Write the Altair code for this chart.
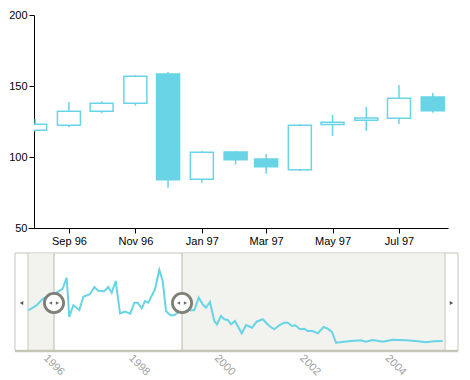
import altair as alt
import pandas as pd

# ---------------- data ----------------
months = ["1996/08/01", "1996/09/01", "1996/10/01", "1996/11/01", "1996/12/01",
          "1997/01/01", "1997/02/01", "1997/03/01", "1997/04/01", "1997/05/01",
          "1997/06/01", "1997/07/01", "1997/08/01"]
opens = [118.8, 122.3, 132.2, 137.8, 158.5, 84.3, 103.5, 98.6, 91.1, 122.8, 125.8, 127.3, 142.3]
closes = [123.0, 132.2, 137.8, 156.8, 84.0, 103.3, 98.1, 93.2, 122.3, 124.4, 127.5, 141.3, 132.6]
highs = [126.8, 138.7, 139.2, 157.7, 159.9, 104.2, 104.2, 102.1, 123.2, 129.6, 135.2, 150.7, 145.1]
lows = [117.8, 120.9, 130.8, 136.1, 78.4, 81.9, 94.6, 88.2, 90.1, 114.8, 118.3, 123.2, 131.2]

nav_year = [1995.679, 1995.876, 1995.993, 1996.070, 1996.164, 1996.258, 1996.368, 1996.485,
            1996.578, 1996.639, 1996.733, 1996.874, 1996.967, 1997.124, 1997.225, 1997.318,
            1997.459, 1997.553, 1997.632, 1997.726, 1997.827, 1997.944, 1998.068, 1998.162,
            1998.241, 1998.335, 1998.412, 1998.489, 1998.646, 1998.747, 1998.827, 1998.904,
            1999.005, 1999.098, 1999.192, 1999.279, 1999.349, 1999.489, 1999.567, 1999.670,
            1999.763, 1999.841, 1999.934, 2000.035, 2000.098, 2000.192, 2000.269, 2000.349,
            2000.426, 2000.520, 2000.677, 2000.778, 2000.918, 2001.028, 2001.169, 2001.323,
            2001.440, 2001.557, 2001.674, 2001.754, 2001.855, 2001.932, 2002.042, 2002.143,
            2002.222, 2002.340, 2002.457, 2002.597, 2002.691, 2002.792, 2002.885, 2003.080,
            2003.237, 2003.471, 2003.588, 2003.745, 2003.979, 2004.213, 2004.525, 2004.799,
            2004.993, 2005.187, 2005.384]
nav_value = [40.7, 45.7, 51.0, 53.7, 55.0, 56.5, 59.0, 62.3,
             73.3, 34.0, 45.7, 41.0, 54.3, 56.7, 64.0, 60.3,
             59.7, 64.0, 58.3, 70.0, 37.7, 39.5, 37.3, 48.3,
             48.3, 42.7, 50.0, 48.3, 61.7, 81.0, 70.0, 40.0,
             35.7, 35.7, 39.0, 42.0, 42.0, 40.7, 40.7, 53.3,
             46.7, 43.3, 49.0, 30.0, 26.7, 35.0, 31.7, 31.0,
             26.7, 30.0, 17.7, 26.0, 23.3, 29.3, 31.7, 25.0,
             21.7, 25.7, 28.3, 28.3, 25.0, 25.7, 21.7, 22.3,
             20.0, 20.0, 17.7, 24.0, 22.3, 19.0, 8.3, 9.3,
             10.0, 10.7, 9.3, 11.0, 9.3, 11.3, 10.7, 9.7,
             8.7, 9.7, 10.0]

nav_domain = [1995.672, 2005.438]
selection = [1996.281, 1999.279]
year_ticks = [1996, 1998, 2000, 2002, 2004]
y_ticks = [50, 100, 150, 200]

# ---------------- styles ----------------
FONT = "Liberation Sans"
CYAN = "#68d4e5"
BORDER = "#c6c6b8"
SHADE = "#f2f2ee"
HANDLE = "#7f7f77"
SHIFT = -6                 # plot area starts a few px right of the reference; shift ranges back
W_TOP, H_TOP = 414, 213
W_NAV, H_NAV = 411, 98

candles = pd.DataFrame(dict(month=months, open=opens, close=closes, high=highs, low=lows))

x_scale = alt.Scale(domain=[alt.DateTime(year=1996, month=7, date=25, hours=10),
                            alt.DateTime(year=1997, month=8, date=15)],
                    range=[SHIFT, W_TOP], padding=0)
y_scale = alt.Scale(domain=[50, 200], nice=False, zero=False)

x_axis = alt.Axis(
    values=[alt.DateTime(year=1996, month=9, date=1), alt.DateTime(year=1996, month=11, date=1),
            alt.DateTime(year=1997, month=1, date=1), alt.DateTime(year=1997, month=3, date=1),
            alt.DateTime(year=1997, month=5, date=1), alt.DateTime(year=1997, month=7, date=1)],
    format="%b %y", title=None, grid=False, domainColor="black", tickColor="black",
    tickSize=5, labelColor="black", labelFontSize=11, labelPadding=2, labelFont=FONT,
    labelFlush=False, labelOverlap=False)
y_axis = alt.Axis(values=y_ticks, title=None, grid=False, domainColor="black",
                  tickColor="black", tickSize=5, labelColor="black", labelFontSize=11,
                  labelPadding=2, labelFont=FONT)

wicks = alt.Chart(candles).mark_rule(color=CYAN, strokeWidth=1.5, clip=True).encode(
    x=alt.X("month:T", scale=x_scale, axis=x_axis),
    y=alt.Y("low:Q", scale=y_scale, axis=y_axis),
    y2="high:Q")
boxes = alt.Chart(candles).mark_bar(size=23, stroke=CYAN, strokeWidth=1.5, clip=True).encode(
    x=alt.X("month:T", scale=x_scale, axis=x_axis),
    y=alt.Y("open:Q", scale=y_scale, axis=y_axis),
    y2="close:Q",
    fill=alt.condition("datum.open > datum.close", alt.value(CYAN), alt.value("white")))
top = alt.layer(wicks, boxes).properties(width=W_TOP, height=H_TOP)

# ---------------- navigator ----------------
nav_x = alt.Scale(domain=nav_domain, nice=False, zero=False, range=[SHIFT, W_NAV])
nav_y = alt.Scale(domain=[0, 98], nice=False, zero=False)
nav_axis = alt.Axis(values=year_ticks, format="d", labelAngle=45, labelAlign="left",
                    labelBaseline="top", domain=False, ticks=False, grid=False,
                    labelColor="#a0a0a0", labelFontSize=11, labelPadding=1, labelOffset=7,
                    title=None, labelFont=FONT, labelFlush=False, labelOverlap=False)

one = pd.DataFrame({"k": [0]})
nav_df = pd.DataFrame({"year": nav_year, "value": nav_value})
shade_df = pd.DataFrame({"year": [nav_domain[0], selection[1]],
                         "year_end": [selection[0], nav_domain[1]]})
handle_df = pd.DataFrame({"year": selection, "value": [48, 48]})

L_OUT, R_OUT = SHIFT - 13, W_NAV + 13

frame = alt.Chart(one).mark_rect(fill="white", stroke=BORDER, strokeWidth=1).encode(
    x=alt.value(L_OUT), x2=alt.value(R_OUT), y=alt.value(0), y2=alt.value(H_NAV))
shade = alt.Chart(shade_df).mark_rect(fill=SHADE).encode(
    x=alt.X("year:Q", scale=nav_x, axis=nav_axis), x2="year_end:Q",
    y=alt.value(0.5), y2=alt.value(H_NAV))
edge_l = alt.Chart(one).mark_rule(color=BORDER, strokeWidth=1).encode(
    x=alt.value(SHIFT), y=alt.value(0), y2=alt.value(H_NAV))
edge_r = alt.Chart(one).mark_rule(color=BORDER, strokeWidth=1).encode(
    x=alt.value(W_NAV), y=alt.value(0), y2=alt.value(H_NAV))
sel_lines = alt.Chart(handle_df).mark_rule(color="#b8b8aa", strokeWidth=1).encode(
    x=alt.X("year:Q", scale=nav_x, axis=nav_axis), y=alt.value(0), y2=alt.value(H_NAV))
line = alt.Chart(nav_df).mark_line(color=CYAN, strokeWidth=2).encode(
    x=alt.X("year:Q", scale=nav_x, axis=nav_axis),
    y=alt.Y("value:Q", scale=nav_y, axis=None))
bottom = alt.Chart(one).mark_rule(color=BORDER, strokeWidth=2.5).encode(
    x=alt.value(L_OUT), x2=alt.value(R_OUT), y=alt.value(H_NAV))
btn_l = alt.Chart(one).mark_point(shape="triangle-left", filled=True, size=16,
                                  color="#555555", opacity=1).encode(
    x=alt.value(SHIFT - 6.5), y=alt.value(50))
btn_r = alt.Chart(one).mark_point(shape="triangle-right", filled=True, size=16,
                                  color="#555555", opacity=1).encode(
    x=alt.value(W_NAV + 6.5), y=alt.value(50))
handles = alt.Chart(handle_df).mark_point(shape="circle", filled=True, size=370, fill="white",
                                          stroke=HANDLE, strokeWidth=2.8, opacity=1).encode(
    x=alt.X("year:Q", scale=nav_x, axis=nav_axis),
    y=alt.Y("value:Q", scale=nav_y, axis=None))
arr_l = alt.Chart(handle_df).mark_point(shape="triangle-left", filled=True, size=14,
                                        color="#6a6a6a", opacity=1, xOffset=-3.5).encode(
    x=alt.X("year:Q", scale=nav_x, axis=nav_axis),
    y=alt.Y("value:Q", scale=nav_y, axis=None))
arr_r = alt.Chart(handle_df).mark_point(shape="triangle-right", filled=True, size=14,
                                        color="#6a6a6a", opacity=1, xOffset=3.5).encode(
    x=alt.X("year:Q", scale=nav_x, axis=nav_axis),
    y=alt.Y("value:Q", scale=nav_y, axis=None))

nav = alt.layer(frame, shade, edge_l, edge_r, sel_lines, line, bottom, btn_l, btn_r,
                handles, arr_l, arr_r).properties(width=W_NAV, height=H_NAV)

chart = alt.vconcat(top, nav, spacing=5).properties(
    padding={"left": 0, "top": 0, "right": 2, "bottom": 0}
).configure_view(stroke="transparent")

chart.save("out.html", embed_options={"renderer": "svg", "actions": False})
